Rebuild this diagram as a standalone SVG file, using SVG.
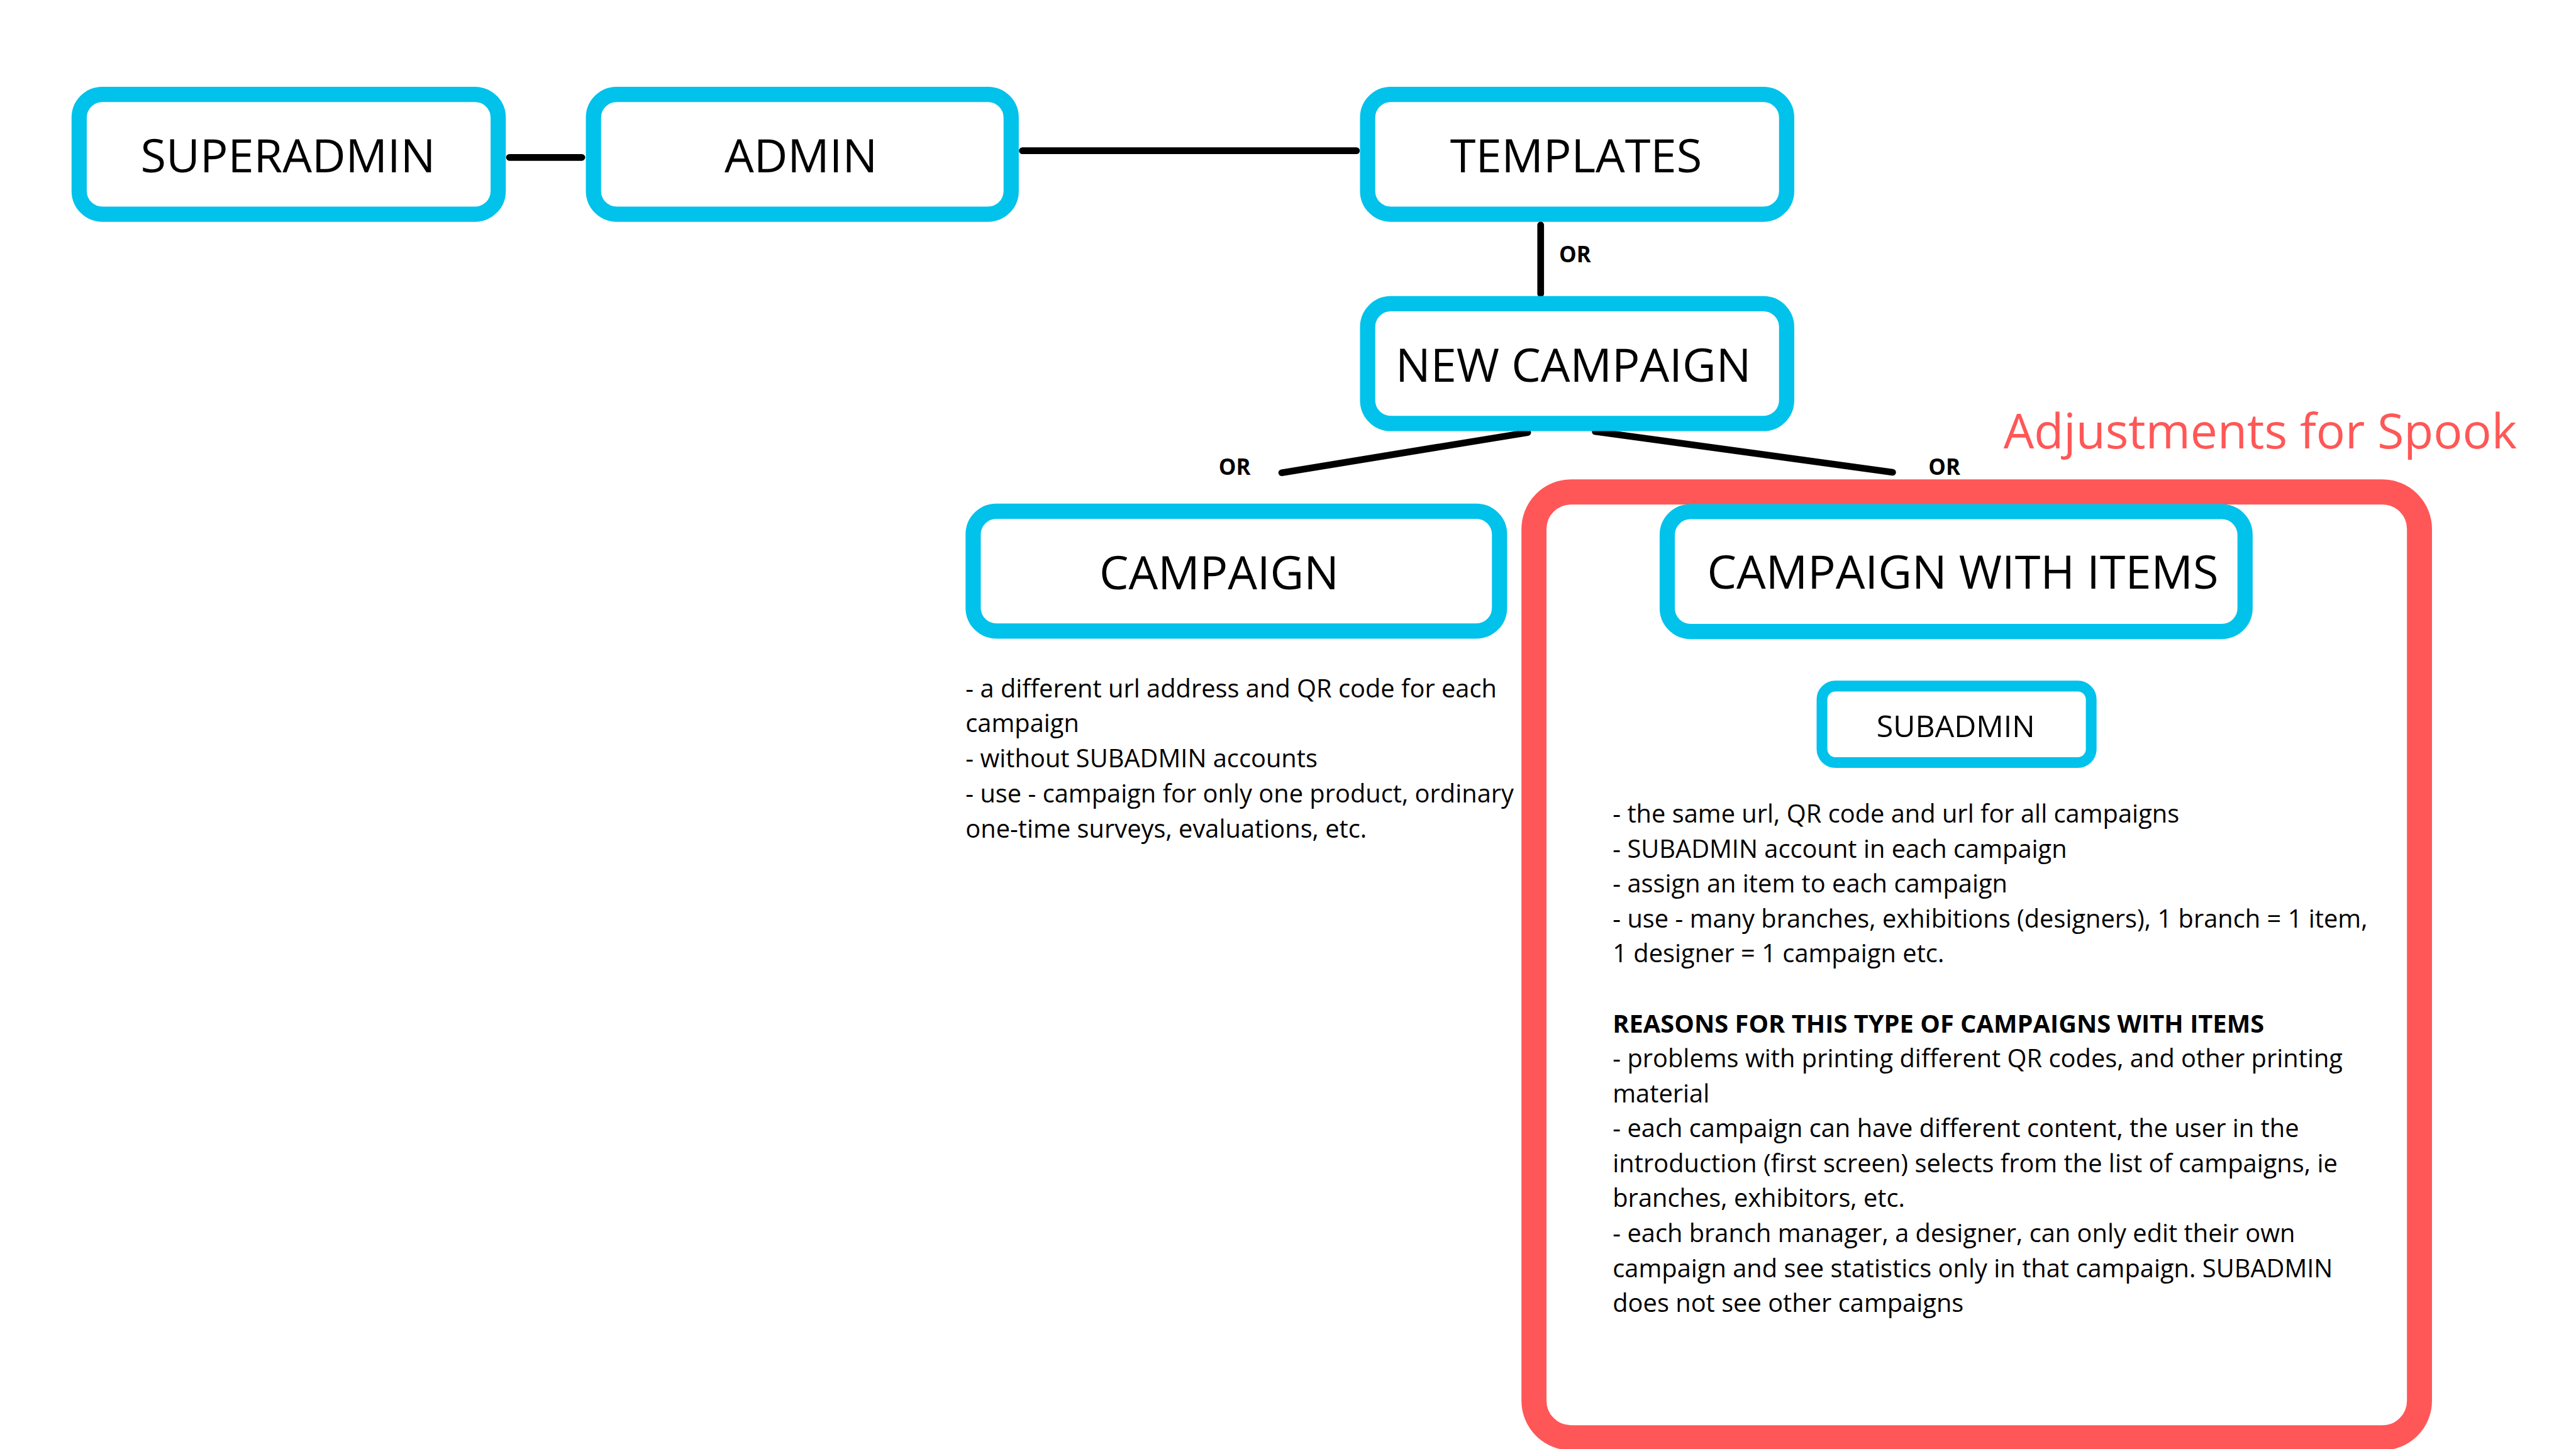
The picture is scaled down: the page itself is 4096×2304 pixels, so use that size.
<svg xmlns="http://www.w3.org/2000/svg" width="4096" height="2304" viewBox="0 0 4096 2304">
<style>
.box{fill:#fff;stroke:#00C2EB;stroke-width:34}
.sub{fill:#fff;stroke:#00C2EB;stroke-width:24}
.red{fill:none;stroke:#FF5757;stroke-width:56}
.title{font-family:"Open Sans","Liberation Sans",sans-serif;font-size:104px;fill:#000;text-anchor:middle}
.or{font-family:"Open Sans","Liberation Sans",sans-serif;font-size:49px;font-weight:700;fill:#000}
.desc{font-family:"Open Sans","Liberation Sans",sans-serif;font-size:56px;fill:#000}
.conn line{stroke:#000;stroke-width:15;stroke-linecap:round}
</style>
<rect width="4096" height="2304" fill="#fff"/>
<g transform="scale(0.711111)">
  <g id="adjustments">
    <rect class="red" x="3430" y="1100" width="1980" height="2115" rx="83" ry="83"/>
    <text x="4480" y="1003" font-family="'Open Sans','Liberation Sans',sans-serif" font-size="108" fill="#FF5757">Adjustments for Spook</text>
  </g>
  <g id="connectors" class="conn">
    <line x1="1139" y1="352" x2="1301" y2="352"/>
    <line x1="2286" y1="337" x2="3033" y2="337"/>
    <line x1="3445" y1="503" x2="3445" y2="657"/>
    <line x1="3416" y1="967" x2="2866" y2="1057"/>
    <line x1="3567" y1="965" x2="4232" y2="1056"/>
  </g>
  <g id="or-labels">
    <text class="or" x="3486" y="587">OR</text>
    <text class="or" x="2725" y="1062">OR</text>
    <text class="or" x="4312" y="1062">OR</text>
  </g>
  <g id="superadmin">
    <rect class="box" x="177" y="211" width="937" height="268" rx="52" ry="52"/>
    <text class="title" x="644" y="385">SUPERADMIN</text>
  </g>
  <g id="admin">
    <rect class="box" x="1327" y="211" width="934" height="268" rx="52" ry="52"/>
    <text class="title" x="1791" y="385">ADMIN</text>
  </g>
  <g id="templates">
    <rect class="box" x="3058" y="211" width="937" height="268" rx="52" ry="52"/>
    <text class="title" x="3524" y="385">TEMPLATES</text>
  </g>
  <g id="new-campaign">
    <rect class="box" x="3058" y="679" width="937" height="268" rx="52" ry="52"/>
    <text class="title" x="3518" y="853">NEW CAMPAIGN</text>
  </g>
  <g id="campaign">
    <rect class="box" x="2176" y="1143" width="1177" height="268" rx="52" ry="52"/>
    <text class="title" x="2726" y="1317">CAMPAIGN</text>
    <text class="desc" x="2159" y="1559">- a different url address and QR code for each</text>
    <text class="desc" x="2159" y="1637">campaign</text>
    <text class="desc" x="2159" y="1716">- without SUBADMIN accounts</text>
    <text class="desc" x="2159" y="1795">- use - campaign for only one product, ordinary</text>
    <text class="desc" x="2159" y="1873">one-time surveys, evaluations, etc.</text>
  </g>
  <g id="campaign-with-items">
    <rect class="box" x="3728" y="1144" width="1292" height="268" rx="52" ry="52"/>
    <text class="title" x="4389" y="1316">CAMPAIGN WITH ITEMS</text>
  </g>
  <g id="subadmin">
    <rect class="sub" x="4074" y="1534" width="602" height="171" rx="30" ry="30"/>
    <text class="title" x="4373" y="1648" style="font-size:68px">SUBADMIN</text>
  </g>
  <g id="items-notes">
    <text class="desc" x="3606" y="1840">- the same url, QR code and url for all campaigns</text>
    <text class="desc" x="3606" y="1918">- SUBADMIN account in each campaign</text>
    <text class="desc" x="3606" y="1996">- assign an item to each campaign</text>
    <text class="desc" x="3606" y="2074">- use - many branches, exhibitions (designers), 1 branch = 1 item,</text>
    <text class="desc" x="3606" y="2152">1 designer = 1 campaign etc.</text>
    <text class="desc" x="3606" y="2309" style="font-weight:700">REASONS FOR THIS TYPE OF CAMPAIGNS WITH ITEMS</text>
    <text class="desc" x="3606" y="2387">- problems with printing different QR codes, and other printing</text>
    <text class="desc" x="3606" y="2465">material</text>
    <text class="desc" x="3606" y="2543">- each campaign can have different content, the user in the</text>
    <text class="desc" x="3606" y="2621">introduction (first screen) selects from the list of campaigns, ie</text>
    <text class="desc" x="3606" y="2699">branches, exhibitors, etc.</text>
    <text class="desc" x="3606" y="2777">- each branch manager, a designer, can only edit their own</text>
    <text class="desc" x="3606" y="2856">campaign and see statistics only in that campaign. SUBADMIN</text>
    <text class="desc" x="3606" y="2934">does not see other campaigns</text>
  </g>
</g>
</svg>
